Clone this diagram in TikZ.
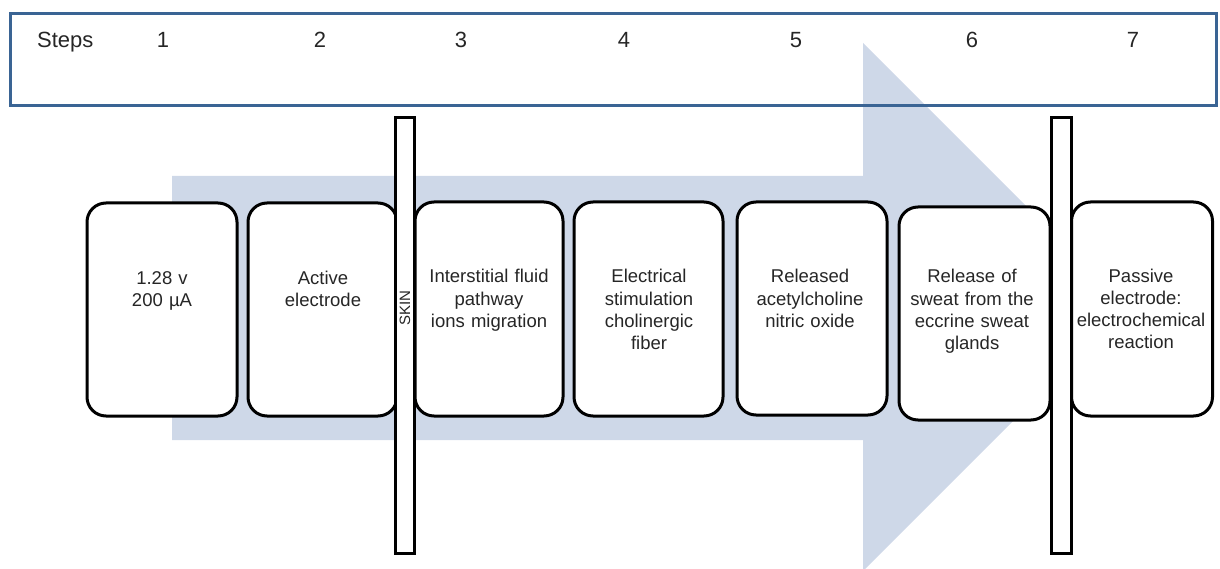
\documentclass[tikz,border=0pt]{standalone}
\usepackage{fontspec}
\setmainfont{Liberation Sans}
\definecolor{arrowfill}{HTML}{CED8E8}
\definecolor{frameblue}{HTML}{3A6494}
\begin{document}
\begin{tikzpicture}[x=1pt,y=-1pt,
  stepbox/.style={draw=black, line width=3pt, fill=white, rounded corners=19pt, inner sep=0pt},
  bar/.style={draw=black, line width=3pt, fill=white, inner sep=0pt},
  boxtext/.style={font=\fontsize{18.5}{22.3}\selectfont, align=center, text width=150pt, inner sep=0pt, anchor=base, text=black!85},
  toptext/.style={font=\fontsize{22}{26}\selectfont, inner sep=0pt, anchor=base, text=black!85}]
\useasboundingbox (0,0) rectangle (1220,569);
% big background arrow
\fill[arrowfill] (172,176) -- (863,176) -- (863,43) -- (1127,307) -- (865,569) -- (863,569) -- (863,440) -- (172,440) -- cycle;
% steps header frame
\node[draw=frameblue, line width=3pt, minimum width=1206pt, minimum height=92pt, inner sep=0pt] (header) at (613.5,59.5) {};
\node[toptext, anchor=base west] (steps) at (37,48) {Steps};
\node[toptext] (n1) at (163,48) {1};
\node[toptext] (n2) at (320,48) {2};
\node[toptext] (n3) at (461,48) {3};
\node[toptext] (n4) at (624,48) {4};
\node[toptext] (n5) at (796,48) {5};
\node[toptext] (n6) at (972,48) {6};
\node[toptext] (n7) at (1133,48) {7};
% step boxes
\node[stepbox, minimum width=150pt, minimum height=213pt] (b1) at (162,309.5) {};
\node[stepbox, minimum width=149pt, minimum height=213pt] (b2) at (322.5,309.5) {};
\node[stepbox, minimum width=148pt, minimum height=214pt] (b3) at (489,309) {};
\node[stepbox, minimum width=149pt, minimum height=214pt] (b4) at (648.5,309) {};
\node[stepbox, minimum width=150pt, minimum height=213pt] (b5) at (812,308.5) {};
\node[stepbox, minimum width=151pt, minimum height=213pt] (b6) at (974.5,313.5) {};
\node[stepbox, minimum width=141pt, minimum height=214pt] (b7) at (1142,309) {};
% skin bars
\node[bar, minimum width=19pt, minimum height=435pt] (skin) at (405,335.5) {};
\node[bar, minimum width=20pt, minimum height=435pt] (bar2) at (1061.5,335.5) {};
\node[rotate=90, font=\fontsize{15}{18}\selectfont, inner sep=0pt, text=black!85] (skinlabel) at (skin.center |- 0,308) {SKIN};
% texts
\node[boxtext] (t1) at (162,284) {1.28 v\\200 µA};
\node[boxtext] (t2) at (323,284) {Active\\electrode};
\node[boxtext] (t3) at (489,283) {Interstitial fluid\\pathway\\ions migration};
\node[boxtext] (t4) at (649,283) {Electrical\\stimulation\\cholinergic\\fiber};
\node[boxtext] (t5) at (810,283) {Released\\acetylcholine\\nitric oxide};
\node[boxtext] (t6) at (972,283) {Release of\\sweat from the\\eccrine sweat\\glands};
\node[boxtext] (t7) at (1141,282) {Passive\\electrode:\\electrochemical\\reaction};
\end{tikzpicture}
\end{document}
